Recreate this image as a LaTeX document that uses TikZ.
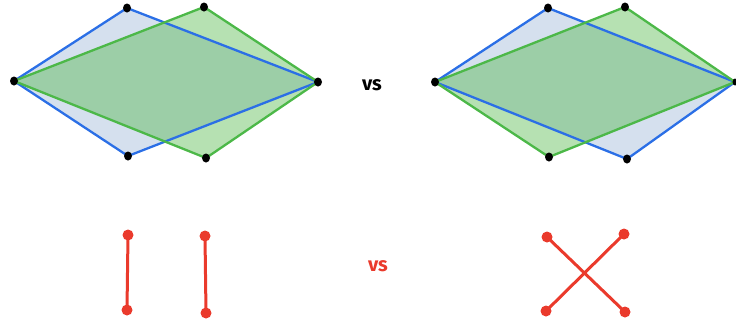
\documentclass[tikz,border=0pt]{standalone}
\usepackage{fontspec}
\setsansfont{Fira Sans}
\definecolor{bline}{HTML}{2B6FE6}
\definecolor{gline}{HTML}{4CB848}
\definecolor{bfill}{HTML}{D5E0EE}
\definecolor{gfillc}{RGB}{72,180,62}
\definecolor{redc}{HTML}{EA3A2C}
\tikzset{
  bedge/.style={draw=bline, line width=2.3pt, line join=round},
  gedge/.style={draw=gline, line width=2.3pt, line join=round},
  gfill/.style={fill=gfillc, fill opacity=0.4},
  vdot/.style={ellipse, fill=black, inner sep=0pt, minimum width=8pt, minimum height=9pt},
  rdot/.style={circle, fill=redc, inner sep=0pt, minimum size=11pt},
  rline/.style={draw=redc, line width=3pt, line cap=round},
  vslabel/.style={font=\sffamily\bfseries\fontsize{20}{20}\selectfont, inner sep=0pt}
}
\usetikzlibrary{shapes.geometric}
\begin{document}
\begin{tikzpicture}[x=1pt,y=-1pt]
\useasboundingbox (0,0) rectangle (736,322);
% left pair
\coordinate (L) at (14,81);
\coordinate (R) at (318,82);
\coordinate (BT) at (127,8);
\coordinate (BB) at (128,156);
\coordinate (GT) at (204,7);
\coordinate (GB) at (206,158);
\fill[bfill] (L) -- (BT) -- (R) -- (BB) -- cycle;
\fill[gfill] (L) -- (GT) -- (R) -- (GB) -- cycle;
\draw[bedge] (L) -- (BT) -- (R) -- (BB) -- cycle;
\draw[gedge] (L) -- (GT) -- (R) -- (GB) -- cycle;
\foreach \p in {L,R,BT,BB,GT,GB} \node[vdot] (d\p) at (\p) {};
% right pair
\coordinate (L2) at (435,82);
\coordinate (R2) at (735,82);
\coordinate (BT2) at (548,8);
\coordinate (BB2) at (627,159);
\coordinate (GT2) at (625,7);
\coordinate (GB2) at (549,157);
\fill[bfill] (L2) -- (BT2) -- (R2) -- (BB2) -- cycle;
\fill[gfill] (L2) -- (GT2) -- (R2) -- (GB2) -- cycle;
\draw[bedge] (L2) -- (BT2) -- (R2) -- (BB2) -- cycle;
\draw[gedge] (L2) -- (GT2) -- (R2) -- (GB2) -- cycle;
\foreach \p in {L2,BT2,BB2,GT2,GB2} \node[vdot] (d\p) at (\p) {};
\node[vdot, minimum width=5pt, minimum height=7pt] (dR2) at (735,82) {};
% labels
\node[vslabel, text=black] (vs1) at (372,85) {vs};
\node[vslabel, text=redc] (vs2) at (378,266) {vs};
% red bottom
\node[rdot] (a1) at (128,235) {};
\node[rdot] (a2) at (127,310) {};
\node[rdot] (b1) at (205,236) {};
\node[rdot] (b2) at (206,313) {};
\node[rdot] (c1) at (547,237) {};
\node[rdot] (c2) at (625,312) {};
\node[rdot] (e1) at (624,234) {};
\node[rdot] (e2) at (546,311) {};
\draw[rline] (a1.center) -- (a2.center);
\draw[rline] (b1.center) -- (b2.center);
\draw[rline] (c1.center) -- (c2.center);
\draw[rline] (e1.center) -- (e2.center);
\end{tikzpicture}
\end{document}
